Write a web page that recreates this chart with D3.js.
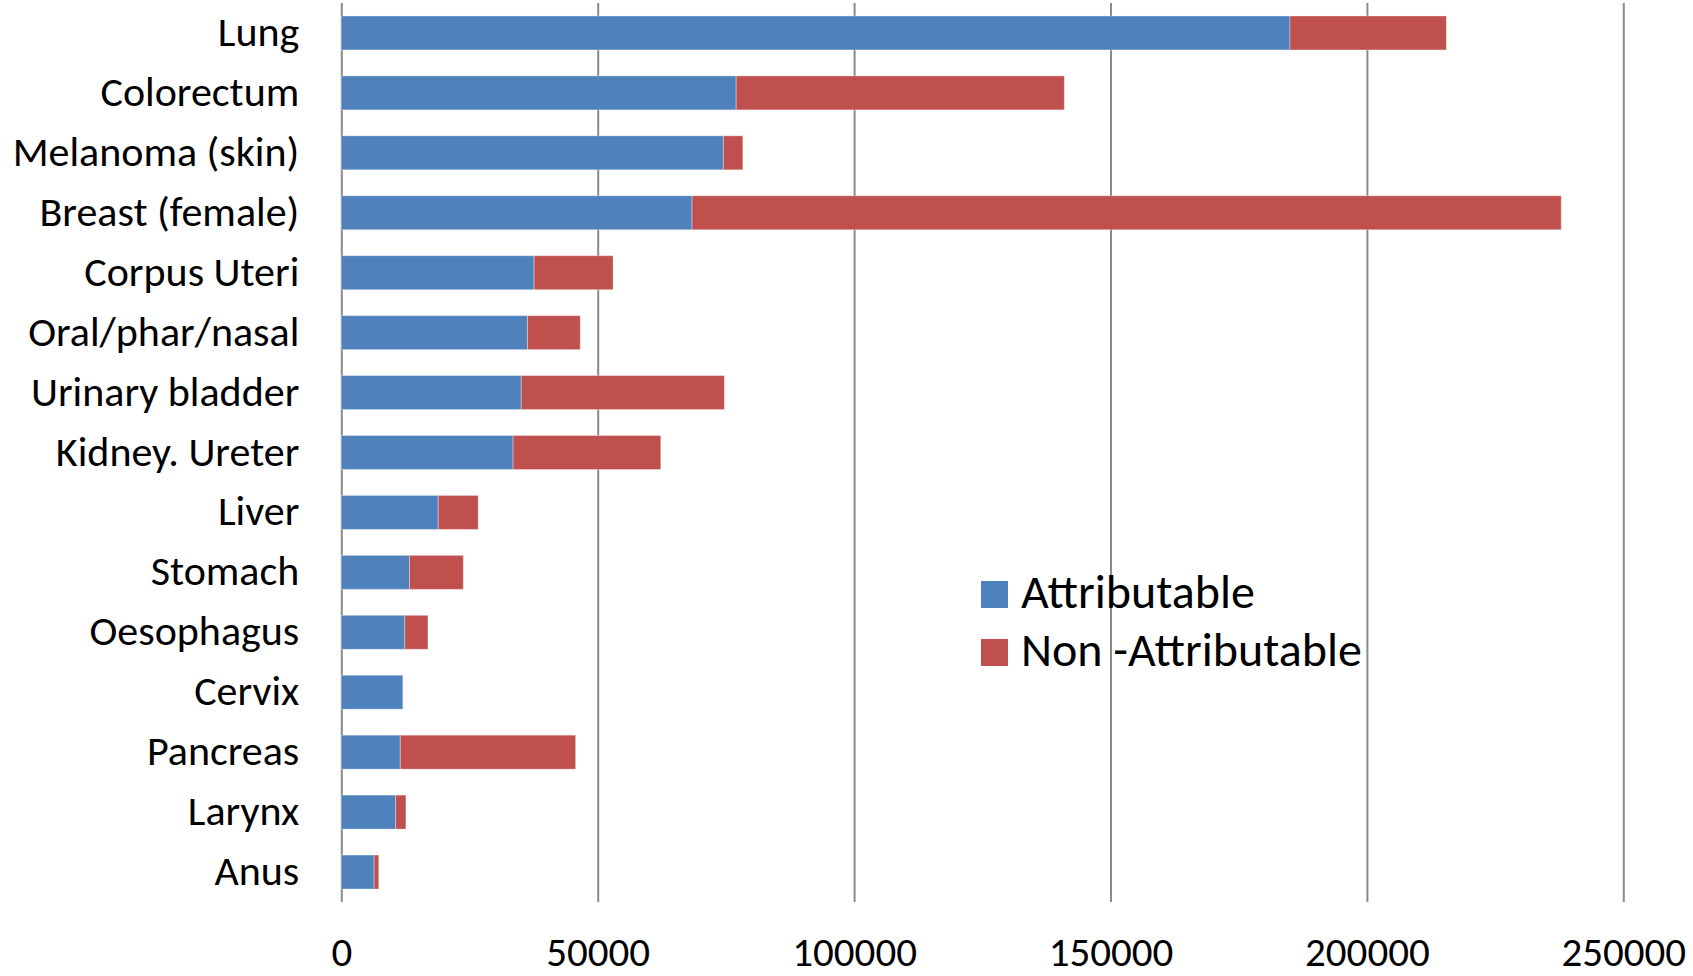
<!DOCTYPE html>
<html>
<head>
<meta charset="utf-8">
<script src="https://cdn.jsdelivr.net/npm/d3@7/dist/d3.min.js"></script>
<style>
  html, body { margin: 0; padding: 0; background: #ffffff; }
  svg { display: block; }
  text { font-family: Calibri, Carlito, Lato, sans-serif; fill: #000; }
</style>
</head>
<body>
<svg id="chart" width="1693" height="976"></svg>
<script>
// Cancer cases by site, split into attributable and non-attributable counts
const sites = [
  "Lung", "Colorectum", "Melanoma (skin)", "Breast (female)", "Corpus Uteri",
  "Oral/phar/nasal", "Urinary bladder", "Kidney. Ureter", "Liver", "Stomach",
  "Oesophagus", "Cervix", "Pancreas", "Larynx", "Anus"
];
const attributable = [
  185000, 77000, 74500, 68400, 37600,
  36300, 35100, 33500, 18900, 13300,
  12400, 12000, 11500, 10600, 6400
];
const nonAttributable = [
  30500, 64000, 3800, 169500, 15400,
  10300, 39600, 28800, 7800, 10500,
  4500, 0, 34200, 2000, 900
];
const seriesNames = ["Attributable", "Non -Attributable"];
const seriesColors = ["#4F81BD", "#C0504D"];
const xTicks = [0, 50000, 100000, 150000, 200000, 250000];

const svg = d3.select("#chart");

const plot = { left: 341.3, right: 1623.3, top: 3, bottom: 902 };

const x = d3.scaleLinear()
  .domain([0, 250000])
  .range([plot.left, plot.right]);

const y = d3.scaleBand()
  .domain(sites)
  .range([plot.top, plot.bottom])
  .paddingInner(0.433)
  .paddingOuter(0.2165);

// vertical gridlines (including the value-axis line at zero)
const grid = svg.append("g")
  .attr("transform", `translate(0,${plot.bottom})`)
  .call(d3.axisBottom(x).tickValues(xTicks).tickSize(-(plot.bottom - plot.top)).tickFormat(""));
grid.select(".domain").remove();
grid.selectAll(".tick line")
  .attr("stroke", "#8a8a8a")
  .attr("stroke-width", 2);

// tick labels along the bottom
const xAxis = svg.append("g")
  .attr("transform", `translate(0,${plot.bottom})`)
  .call(d3.axisBottom(x).tickValues(xTicks).tickSize(0).tickPadding(0).tickFormat(d3.format("d")));
xAxis.select(".domain").remove();
xAxis.selectAll(".tick text")
  .attr("y", 64)
  .attr("dy", null)
  .style("font-size", "41px")
  .style("font-family", "Calibri, Carlito, Lato, sans-serif");

// stacked series
const rows = sites.map((s, i) => ({ site: s, a: attributable[i], n: nonAttributable[i] }));
const stack = d3.stack().keys(["a", "n"]);
const layers = stack(rows);

svg.append("g")
  .selectAll("g")
  .data(layers)
  .join("g")
    .attr("fill", (d, i) => seriesColors[i])
  .selectAll("rect")
  .data(d => d)
  .join("rect")
    .attr("x", d => x(d[0]))
    .attr("y", d => y(d.data.site))
    .attr("width", d => Math.max(0, x(d[1]) - x(d[0])))
    .attr("height", y.bandwidth())
    .attr("stroke", "rgba(255,255,255,0.35)")
    .attr("stroke-width", 1);

// category labels
const yAxis = svg.append("g")
  .attr("transform", `translate(${plot.left - 42},0)`)
  .call(d3.axisLeft(y).tickSize(0).tickPadding(0));
yAxis.select(".domain").remove();
yAxis.selectAll(".tick text")
  .attr("x", 0)
  .attr("dy", "0.31em")
  .style("font-size", "42px")
  .style("font-family", "Calibri, Carlito, Lato, sans-serif");

// legend
const legend = svg.append("g").attr("transform", "translate(981,581)");
const items = legend.selectAll("g")
  .data(seriesNames)
  .join("g")
    .attr("transform", (d, i) => `translate(0,${i * 58})`);
items.append("rect")
  .attr("width", 27)
  .attr("height", 27)
  .attr("fill", (d, i) => seriesColors[i]);
items.append("text")
  .attr("x", 40)
  .attr("y", 27)
  .style("font-size", "48px")
  .text(d => d);
</script>
</body>
</html>
